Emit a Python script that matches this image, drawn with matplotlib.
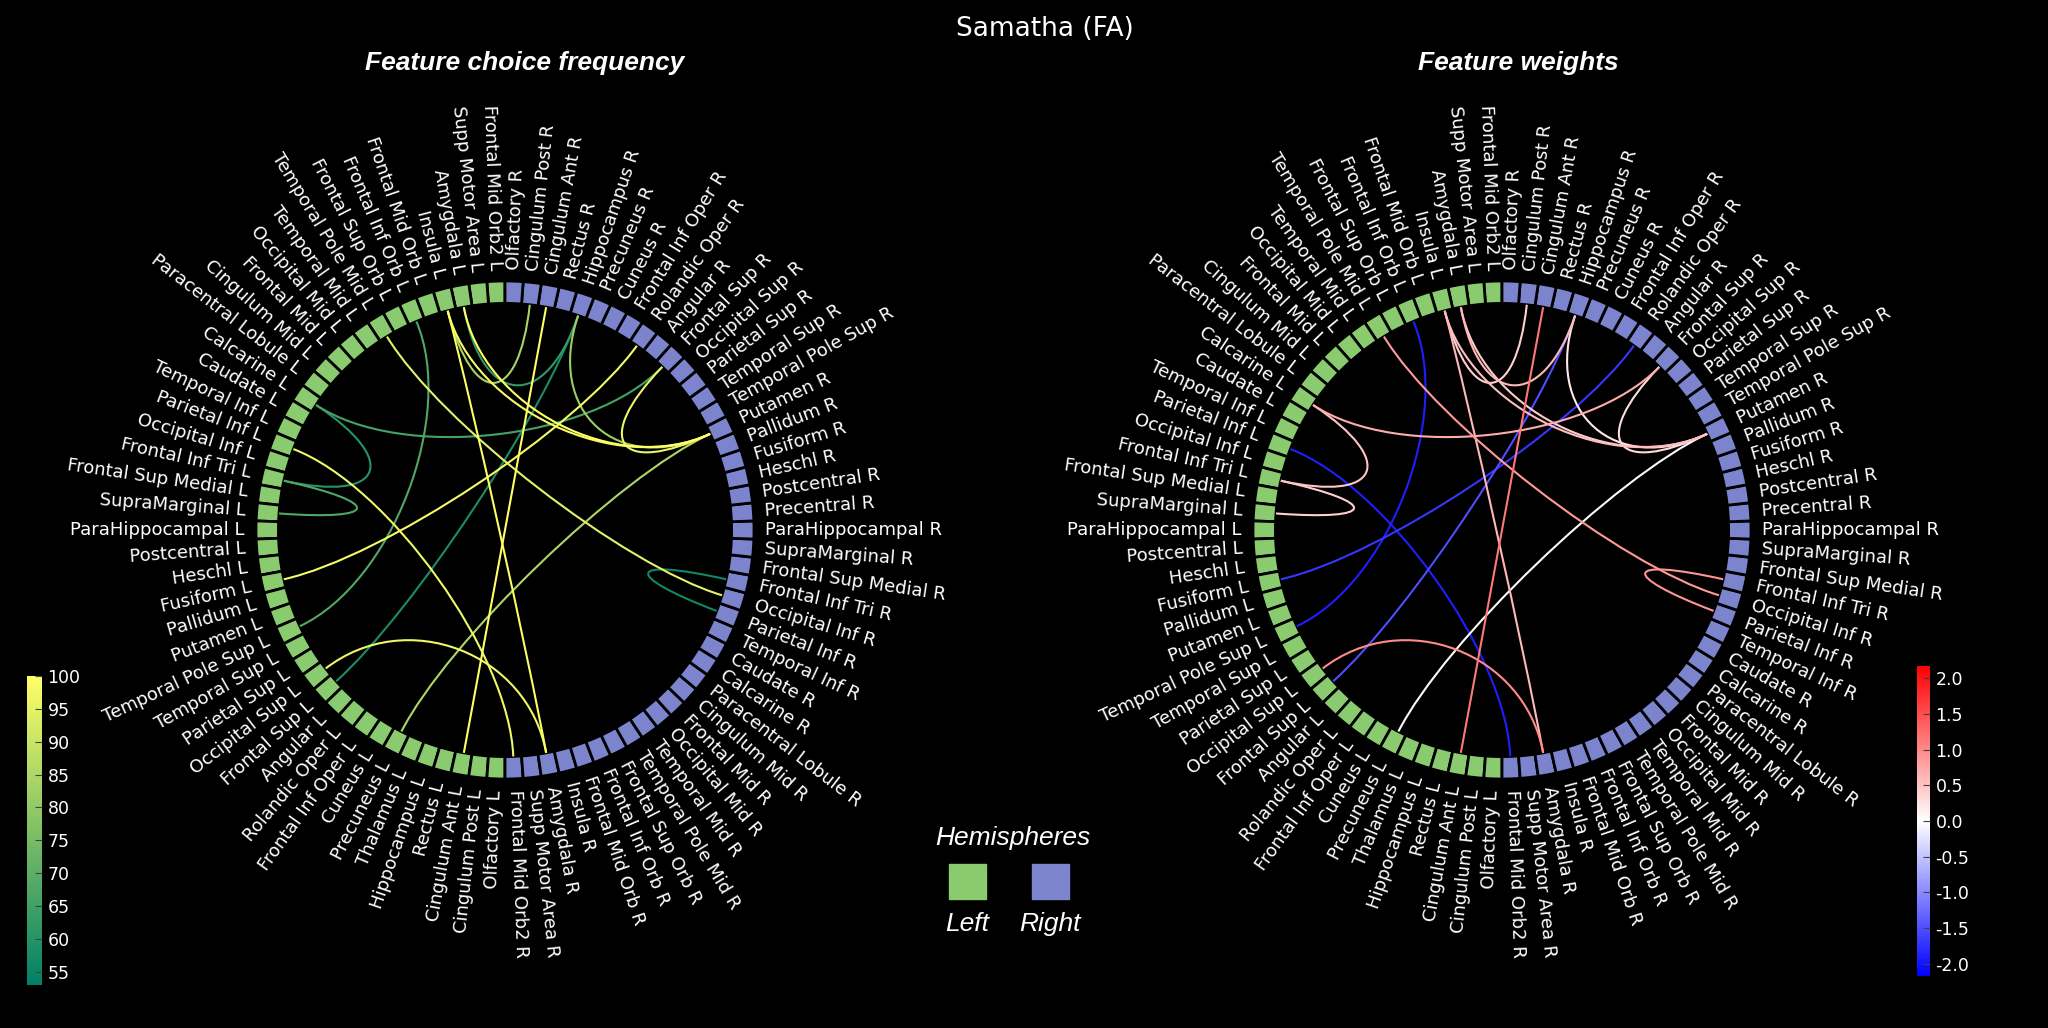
import numpy as np
import matplotlib
matplotlib.use("Agg")
import matplotlib.pyplot as plt
from matplotlib.path import Path
from matplotlib.patches import PathPatch, Rectangle
from matplotlib.cm import ScalarMappable
from matplotlib.colors import Normalize

# node order, left hemisphere from the top going round, right one from the bottom
left_regions = ['Frontal Mid Orb2', 'Supp Motor Area', 'Amygdala', 'Insula', 'Frontal Mid Orb',
                'Frontal Inf Orb', 'Frontal Sup Orb', 'Temporal Pole Mid', 'Temporal Mid',
                'Occipital Mid', 'Frontal Mid', 'Cingulum Mid', 'Paracentral Lobule', 'Calcarine',
                'Caudate', 'Temporal Inf', 'Parietal Inf', 'Occipital Inf', 'Frontal Inf Tri',
                'Frontal Sup Medial', 'SupraMarginal', 'ParaHippocampal', 'Postcentral', 'Heschl',
                'Fusiform', 'Pallidum', 'Putamen', 'Temporal Pole Sup', 'Temporal Sup',
                'Parietal Sup', 'Occipital Sup', 'Frontal Sup', 'Angular', 'Rolandic Oper',
                'Frontal Inf Oper', 'Cuneus', 'Precuneus', 'Thalamus', 'Hippocampus', 'Rectus',
                'Cingulum Ant', 'Cingulum Post', 'Olfactory']
right_regions = ['Frontal Mid Orb2', 'Supp Motor Area', 'Amygdala', 'Insula', 'Frontal Mid Orb',
                 'Frontal Inf Orb', 'Frontal Sup Orb', 'Temporal Pole Mid', 'Temporal Mid',
                 'Occipital Mid', 'Frontal Mid', 'Cingulum Mid', 'Paracentral Lobule', 'Calcarine',
                 'Caudate', 'Temporal Inf', 'Parietal Inf', 'Occipital Inf', 'Frontal Inf Tri',
                 'Frontal Sup Medial', 'SupraMarginal', 'ParaHippocampal', 'Precentral',
                 'Postcentral', 'Heschl', 'Fusiform', 'Pallidum', 'Putamen', 'Temporal Pole Sup',
                 'Temporal Sup', 'Parietal Sup', 'Occipital Sup', 'Frontal Sup', 'Angular',
                 'Rolandic Oper', 'Frontal Inf Oper', 'Cuneus', 'Precuneus', 'Hippocampus',
                 'Rectus', 'Cingulum Ant', 'Cingulum Post', 'Olfactory']

# connections (same features in both circles)
edges = [('Amygdala L', 'Putamen R'), ('Insula L', 'Putamen R'), ('Insula L', 'Amygdala R'),
         ('Cingulum Ant L', 'Cingulum Ant R'), ('Occipital Sup L', 'Amygdala R'),
         ('Fusiform L', 'Rolandic Oper R'), ('Parietal Inf L', 'Frontal Mid Orb2 R'),
         ('Temporal Pole Mid L', 'Occipital Inf R'), ('Putamen R', 'Frontal Sup R'),
         ('Precuneus L', 'Putamen R'), ('Hippocampus R', 'Putamen R'),
         ('Insula L', 'Cingulum Post R'), ('Amygdala L', 'Hippocampus R'),
         ('Frontal Sup L', 'Hippocampus R'), ('Calcarine L', 'Frontal Sup R'),
         ('Frontal Inf Orb L', 'Temporal Pole Sup L'), ('Calcarine L', 'Frontal Inf Tri L'),
         ('Frontal Inf Tri L', 'SupraMarginal L'), ('Parietal Inf R', 'Frontal Inf Tri R')]
frequency = [100, 98, 99, 100, 97, 98, 97, 95, 96, 85, 82, 84, 62, 58, 66, 68, 60, 68, 56]
weights = [0.45, 0.55, 0.6, 1.15, 1.0, -1.7, -1.9, 0.85, 0.3, 0.05, 0.2, 0.4, 0.6, -1.5,
           0.7, -1.9, 0.5, 0.4, 0.9]

names = [r + ' L' for r in left_regions] + [r + ' R' for r in right_regions]
n = len(names)
step = 2 * np.pi / n
angles = np.pi / 2 + step * (np.arange(n) + 0.5)
node_colors = ['#8bcb70'] * len(left_regions) + ['#7b84cc'] * len(right_regions)

W, H = 2048, 1028
fig = plt.figure(figsize=(W / 100, H / 100), dpi=100, facecolor='black')


def circle(ax, values, cmap, norm):
    ax.set_facecolor('black')
    ax.set_ylim(0, 10)
    ax.axis('off')
    ax.bar(angles, 0.9, width=step, bottom=9.1, color=node_colors, edgecolor='black',
           linewidth=2, align='center', clip_on=False)
    cm = plt.get_cmap(cmap)
    for k in np.argsort(values):
        t0 = angles[names.index(edges[k][0])]
        t1 = angles[names.index(edges[k][1])]
        path = Path([(t0, 9.1), (t0, 5), (t1, 5), (t1, 9.1)],
                    [Path.MOVETO, Path.CURVE4, Path.CURVE4, Path.CURVE4])
        ax.add_patch(PathPatch(path, fill=False, edgecolor=cm(norm(values[k])), linewidth=1.5))
    for name, t in zip(names, angles):
        deg = np.degrees(t) % 360
        if 90 < deg < 270:
            rot, ha = deg - 180, 'right'
        else:
            rot, ha = deg, 'left'
        ax.text(t, 10.45, name, rotation=rot, rotation_mode='anchor', ha=ha, va='center',
                color='white', fontsize=13)


R = 249
for cx, tx, vals, cmap, norm, title in [
        (505, 525, frequency, 'summer', Normalize(53, 100), 'Feature choice frequency'),
        (1502, 1518, weights, 'bwr', Normalize(-2.17, 2.17), 'Feature weights')]:
    ax = fig.add_axes([(cx - R) / W, (H - 530 - R) / H, 2 * R / W, 2 * R / H], projection='polar')
    circle(ax, vals, cmap, norm)
    fig.text(tx / W, 1 - 63 / H, title, ha='center', va='center', color='white',
             fontsize=19, family='Liberation Sans', weight='bold', style='italic')

fig.text(1045 / W, 1 - 29 / H, 'Samatha (FA)', ha='center', va='center', color='white', fontsize=19)

# colorbars
cax1 = fig.add_axes([27 / W, (H - 985) / H, 15 / W, 309 / H])
cb1 = fig.colorbar(ScalarMappable(Normalize(53, 100), 'summer'), cax=cax1,
                   ticks=np.arange(55, 101, 5))
cax2 = fig.add_axes([1917 / W, (H - 976) / H, 13 / W, 310 / H])
cb2 = fig.colorbar(ScalarMappable(Normalize(-2.17, 2.17), 'bwr'), cax=cax2,
                   ticks=np.arange(-2, 2.01, 0.5))
cb2.ax.set_yticklabels(['%.1f' % v for v in np.arange(-2, 2.01, 0.5)])
for cb in (cb1, cb2):
    cb.outline.set_visible(False)
    cb.ax.tick_params(color='0.25', labelcolor='white', labelsize=12.5, direction='in',
                      length=5, pad=4)

# hemisphere legend
lax = fig.add_axes([930 / W, (H - 945) / H, 170 / W, 130 / H])
lax.set_xlim(930, 1100)
lax.set_ylim(945, 815)
lax.axis('off')
lax.add_patch(Rectangle((949, 864), 37, 35, color='#8bcb70'))
lax.add_patch(Rectangle((1032, 864), 37, 35, color='#7b84cc'))
lax.text(1013, 838, 'Hemispheres', ha='center', va='center', color='white', fontsize=19,
         family='Liberation Sans', style='italic')
lax.text(967, 924, 'Left', ha='center', va='center', color='white', fontsize=19,
         family='Liberation Sans', style='italic')
lax.text(1050, 924, 'Right', ha='center', va='center', color='white', fontsize=19,
         family='Liberation Sans', style='italic')

fig.savefig('out.png', dpi=100, facecolor='black')
